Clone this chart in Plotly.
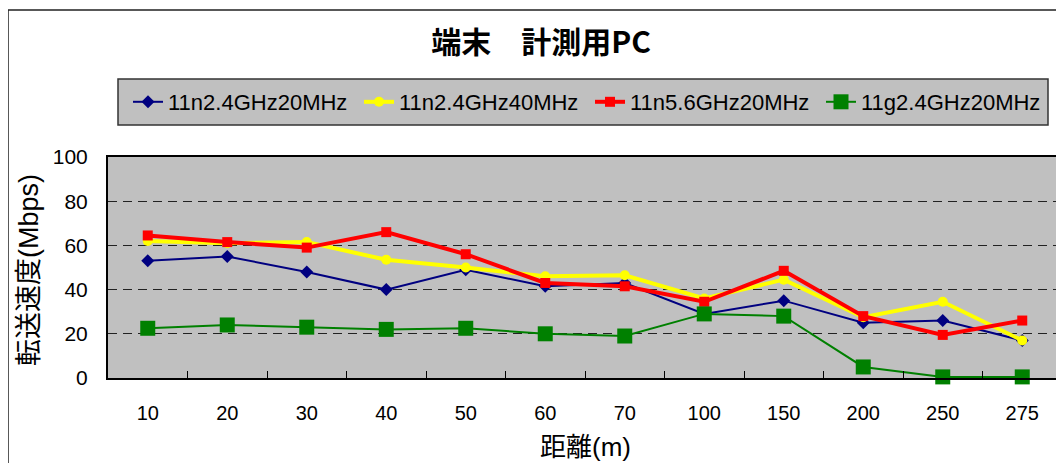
import plotly.graph_objects as go

distances = ["10", "20", "30", "40", "50", "60", "70", "100", "150", "200", "250", "275"]

n24_20 = [53, 55, 48, 40, 49, 41.5, 43, 29, 35, 25, 26, 17]
n24_40 = [62, 61, 61.5, 53.5, 50, 46, 46.5, 36, 44.5, 27.5, 34.5, 17]
n56_20 = [64.5, 61.5, 59, 66, 56, 43, 41.5, 34.5, 48.5, 28, 19.5, 26]
g24_20 = [22.5, 24, 23, 22, 22.5, 20, 19, 29, 28, 5, 0.5, 0.5]

names = ["11n2.4GHz20MHz", "11n2.4GHz40MHz", "11n5.6GHz20MHz", "11g2.4GHz20MHz"]

FONT = "Liberation Sans, Arial, Noto Sans CJK JP, sans-serif"

# the page body adds an 8px offset, so the figure is a bit smaller
OFF = 8
W, H = 1064 - OFF, 463 - OFF
# plot area on screen: 108..1062 x 157..378
L, R, T, B = 108 - OFF, 2, 157 - OFF, 463 - 378
pw, ph = W - L - R, H - T - B


def px(x):
    # screen x -> paper
    return (x - OFF - L) / pw


def py(y):
    # screen y -> paper
    return (T + ph - (y - OFF)) / ph


fig = go.Figure()

styles = [
    dict(color="#000080", width=2, symbol="diamond", size=10),
    dict(color="#FFFF00", width=4, symbol="circle", size=10),
    dict(color="#FF0000", width=4, symbol="square", size=10),
    dict(color="#008000", width=2, symbol="square", size=15),
]

for name, vals, st in zip(names, [n24_20, n24_40, n56_20, g24_20], styles):
    fig.add_trace(
        go.Scatter(
            x=distances,
            y=vals,
            name=name,
            mode="lines+markers",
            line=dict(color=st["color"], width=st["width"]),
            marker=dict(symbol=st["symbol"], size=st["size"], color=st["color"]),
            cliponaxis=False,
        )
    )

fig.update_layout(
    width=W,
    height=H,
    margin=dict(l=L, r=R, t=T, b=B),
    paper_bgcolor="white",
    plot_bgcolor="#C0C0C0",
    font=dict(family=FONT, size=20, color="black"),
    showlegend=True,
    title=dict(
        text="<b>端末　計測用PC</b>",
        font=dict(family="Noto Sans CJK JP, sans-serif", size=30, color="black"),
        x=(541 - OFF) / W,
        xanchor="center",
        xref="container",
        y=1 - (42 - OFF) / H,
        yanchor="middle",
        yref="container",
    ),
    legend=dict(
        orientation="h",
        x=px(128),
        xanchor="left",
        y=py(102),
        yanchor="middle",
        bgcolor="rgba(0,0,0,0)",
        font=dict(size=22),
        entrywidth=186,
        entrywidthmode="pixels",
        itemclick=False,
    ),
    xaxis=dict(
        type="category",
        range=[-0.5, len(distances) - 0.5],
        automargin=False,
        showline=True,
        mirror=True,
        linecolor="black",
        linewidth=2,
        ticks="inside",
        tickson="boundaries",
        ticklen=7,
        tickcolor="black",
        showgrid=False,
        ticklabelstandoff=16,
        tickfont=dict(size=20),
    ),
    yaxis=dict(
        range=[0, 100],
        dtick=20,
        automargin=False,
        showline=True,
        mirror=True,
        linecolor="black",
        linewidth=2,
        ticks="",
        showgrid=True,
        gridcolor="#222222",
        griddash="9px,6px",
        gridwidth=1,
        zeroline=False,
        ticklabelstandoff=14,
        tickfont=dict(size=21),
    ),
    shapes=[
        # legend box
        dict(
            type="rect", xref="paper", yref="paper",
            x0=px(118), x1=px(1048), y0=py(125), y1=py(79),
            fillcolor="#C0C0C0", line=dict(color="#333333", width=1.5), layer="below",
        ),
        # outer chart frame
        dict(
            type="rect", xref="paper", yref="paper",
            x0=px(8), x1=px(1080), y0=py(480), y1=py(10),
            line=dict(color="#222222", width=1.5), layer="below",
        ),
    ],
    annotations=[
        dict(
            text="転送速度(Mbps)", xref="paper", yref="paper",
            x=px(29), y=py(270), textangle=-90, showarrow=False,
            xanchor="center", yanchor="middle",
            font=dict(family=FONT, size=27),
        ),
        dict(
            text="距離(m)", xref="paper", yref="paper",
            x=0.5, y=py(447), showarrow=False,
            xanchor="center", yanchor="middle",
            font=dict(family=FONT, size=26),
        ),
    ],
)

fig.write_html("out.html")
